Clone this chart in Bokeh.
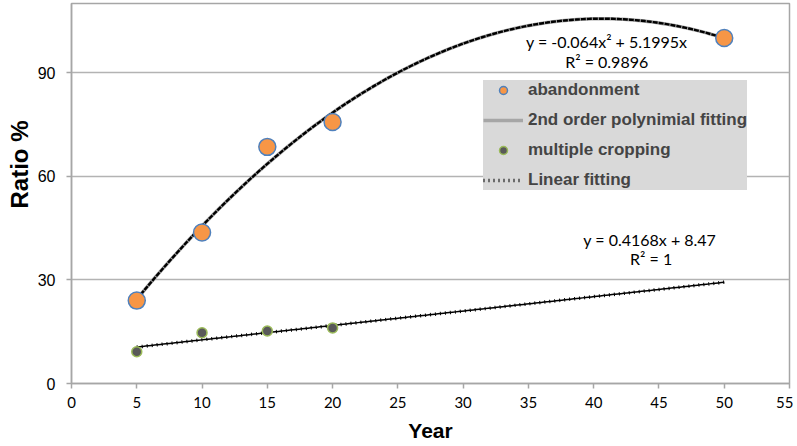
import numpy as np
from bokeh.plotting import figure
from bokeh.models import Legend, LegendItem, Label, FixedTicker, Title
from bokeh.embed import file_html
from bokeh.resources import INLINE

# ---- data ----
years_ab = [5, 10, 15, 20, 50]
abandonment = [24.0, 43.7, 68.5, 75.7, 100.0]
years_mc = [5, 10, 15, 20]
multiple_cropping = [9.2, 14.7, 15.2, 16.1]
poly_coef = [-0.064, 5.1995, 0.0]   # y = -0.064x^2 + 5.1995x
lin_coef = [0.4168, 8.47]           # y = 0.4168x + 8.47
fit_range = [5, 50]
x_ticks = list(range(0, 56, 5))
y_ticks = [0, 30, 60, 90]
poly_eq = "y = -0.064x\u00b2 + 5.1995x"
poly_r2 = "R\u00b2 = 0.9896"
lin_eq = "y = 0.4168x + 8.47"
lin_r2 = "R\u00b2 = 1"

xs = np.linspace(fit_range[0], fit_range[1], 200)
poly_y = np.polyval(poly_coef, xs)
lin_y = np.polyval(lin_coef, xs)

GRAY = "#a6a6a6"
p = figure(width=793, height=444, x_range=(0, 55), y_range=(0, 110),
           output_backend="svg", toolbar_location=None,
           min_border_left=71, min_border_right=4, min_border_top=3,
           min_border_bottom=59)
p.outline_line_color = GRAY
p.outline_line_width = 1.5
p.xgrid.grid_line_color = None
p.ygrid.grid_line_color = "#b3b3b3"
p.ygrid.grid_line_width = 1.5
p.xaxis.ticker = FixedTicker(ticks=x_ticks)
p.yaxis.ticker = FixedTicker(ticks=y_ticks)
for ax in (p.xaxis, p.yaxis):
    ax.axis_line_color = GRAY
    ax.axis_line_width = 1.5
    ax.major_tick_line_color = GRAY
    ax.major_tick_line_width = 1.5
    ax.major_tick_out = 5
    ax.major_tick_in = 0
    ax.minor_tick_line_color = None
    ax.major_label_text_color = "black"
    ax.axis_label_text_font = "Liberation Sans"
    ax.axis_label_text_font_style = "bold"
    ax.axis_label_text_color = "black"
p.xaxis.major_label_text_font = "Lato"
p.xaxis.major_label_text_font_size = "15px"
p.xaxis.major_label_standoff = 8
p.yaxis.major_label_text_font = "Liberation Sans"
p.yaxis.major_label_text_font_size = "16px"
p.yaxis.major_label_standoff = 11
p.xaxis.axis_label = "Year"
p.xaxis.axis_label_text_font_size = "21px"
p.xaxis.axis_label_standoff = 8

ytitle = Title(text="Ratio %", align="right", offset=117,
               text_font="Liberation Sans", text_font_style="bold",
               text_font_size="24px", text_color="black", standoff=4)
p.add_layout(ytitle, "left")

# fits
r_poly = p.line(xs, poly_y, line_color="#a6a6a6", line_width=3.5)
p.line(xs, poly_y, line_color="black", line_width=2.4, line_dash="5 1")
p.line(xs, lin_y, line_color="black", line_width=1.5)
r_lin = p.line(xs, lin_y, line_color="black", line_width=3.5, line_dash="1 4")

r_ab = p.scatter(years_ab, abandonment, size=17, fill_color="#F79646",
                 line_color="#4F81BD", line_width=1.5)
r_mc = p.scatter(years_mc, multiple_cropping, size=10, fill_color="#595959",
                 line_color="#9BBB59", line_width=1.5)

legend = Legend(items=[
    LegendItem(label="abandonment", renderers=[r_ab]),
    LegendItem(label="2nd order polynimial fitting", renderers=[r_poly]),
    LegendItem(label="multiple cropping", renderers=[r_mc]),
    LegendItem(label="Linear fitting", renderers=[r_lin]),
], location=(412, 193))
legend.background_fill_color = "#d9d9d9"
legend.background_fill_alpha = 1
legend.border_line_color = None
legend.label_text_font = "Liberation Sans"
legend.label_text_font_style = "bold"
legend.label_text_font_size = "17px"
legend.glyph_width = 40
legend.glyph_height = 20
legend.label_height = 20
legend.spacing = 10
legend.padding = 6
legend.margin = 0
legend.label_standoff = 5
p.add_layout(legend, "center")

def lab(x, y, t, size="16px", font="Lato"):
    p.add_layout(Label(x=x, y=y, text=t, text_font=font, text_font_size=size,
                       text_align="center", text_baseline="middle",
                       text_color="black"))

lab(41.0, 99.0, poly_eq)
lab(41.0, 93.3, poly_r2)
lab(44.3, 41.8, lin_eq)
lab(44.4, 36.1, lin_r2)

open("out.html", "w").write(file_html(p, INLINE))
